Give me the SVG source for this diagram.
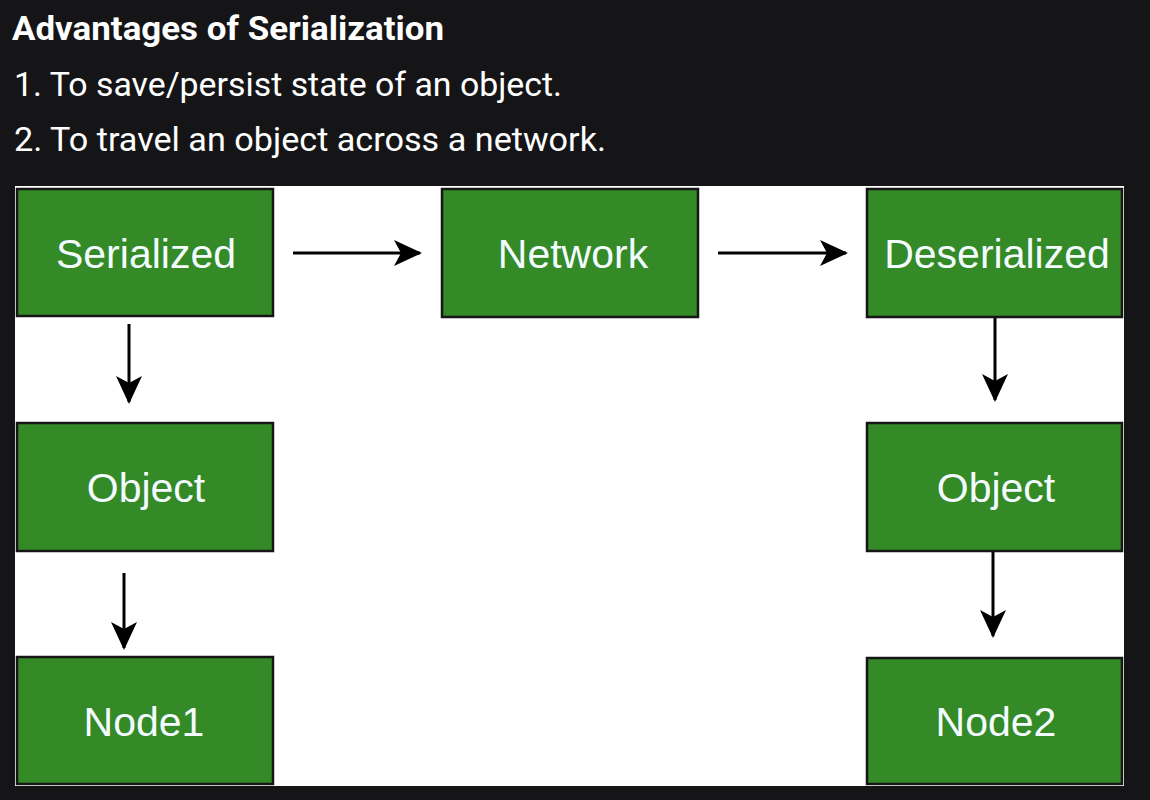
<svg xmlns="http://www.w3.org/2000/svg" width="1150" height="800" viewBox="0 0 1150 800">
<style>
.hdr{font-family:Roboto,"Liberation Sans",sans-serif;fill:#ffffff;}
.box{fill:#338a26;stroke:#161616;stroke-width:2.5;}
.lbl{font-family:"Liberation Sans",Arial,sans-serif;font-size:41px;fill:#f4fbff;text-anchor:middle;}
.con{stroke:#000;stroke-width:3;fill:none;}
</style>
<defs>
<marker id="ah" viewBox="0 0 28 26" refX="26" refY="13" markerWidth="28" markerHeight="26" markerUnits="userSpaceOnUse" orient="auto">
<path d="M0,0 L28,13 L0,26 L7,13 Z" fill="#000"/>
</marker>
</defs>
<rect x="0" y="0" width="1150" height="800" fill="#151517"/>
<text class="hdr" x="12" y="40" font-size="34" font-weight="bold" textLength="432" lengthAdjust="spacingAndGlyphs">Advantages of Serialization</text>
<text class="hdr" x="14" y="96" font-size="33" textLength="548" lengthAdjust="spacingAndGlyphs">1. To save/persist state of an object.</text>
<text class="hdr" x="14" y="151" font-size="33" textLength="592" lengthAdjust="spacingAndGlyphs">2. To travel an object across a network.</text>
<rect x="15" y="186" width="1109" height="600" fill="#ffffff"/>
<g id="connectors">
<line class="con" x1="293" y1="253" x2="420" y2="253" marker-end="url(#ah)"/>
<line class="con" x1="718" y1="253" x2="846" y2="253" marker-end="url(#ah)"/>
<line class="con" x1="129" y1="324" x2="129" y2="402" marker-end="url(#ah)"/>
<line class="con" x1="124" y1="573" x2="124" y2="648" marker-end="url(#ah)"/>
<line class="con" x1="995" y1="318" x2="995" y2="400" marker-end="url(#ah)"/>
<line class="con" x1="993" y1="552" x2="993" y2="636" marker-end="url(#ah)"/>
</g>
<g id="serialized"><rect class="box" x="17" y="189" width="256" height="127"/><text class="lbl" x="146" y="268">Serialized</text></g>
<g id="network"><rect class="box" x="442" y="189" width="256" height="128"/><text class="lbl" x="573" y="268">Network</text></g>
<g id="deserialized"><rect class="box" x="867" y="189" width="255" height="128"/><text class="lbl" x="997" y="268">Deserialized</text></g>
<g id="object1"><rect class="box" x="17" y="423" width="256" height="128"/><text class="lbl" x="146" y="502">Object</text></g>
<g id="object2"><rect class="box" x="867" y="423" width="255" height="128"/><text class="lbl" x="996" y="502">Object</text></g>
<g id="node1"><rect class="box" x="17" y="657" width="256" height="127"/><text class="lbl" x="144" y="736">Node1</text></g>
<g id="node2"><rect class="box" x="867" y="658" width="255" height="126"/><text class="lbl" x="996" y="736">Node2</text></g>
</svg>
